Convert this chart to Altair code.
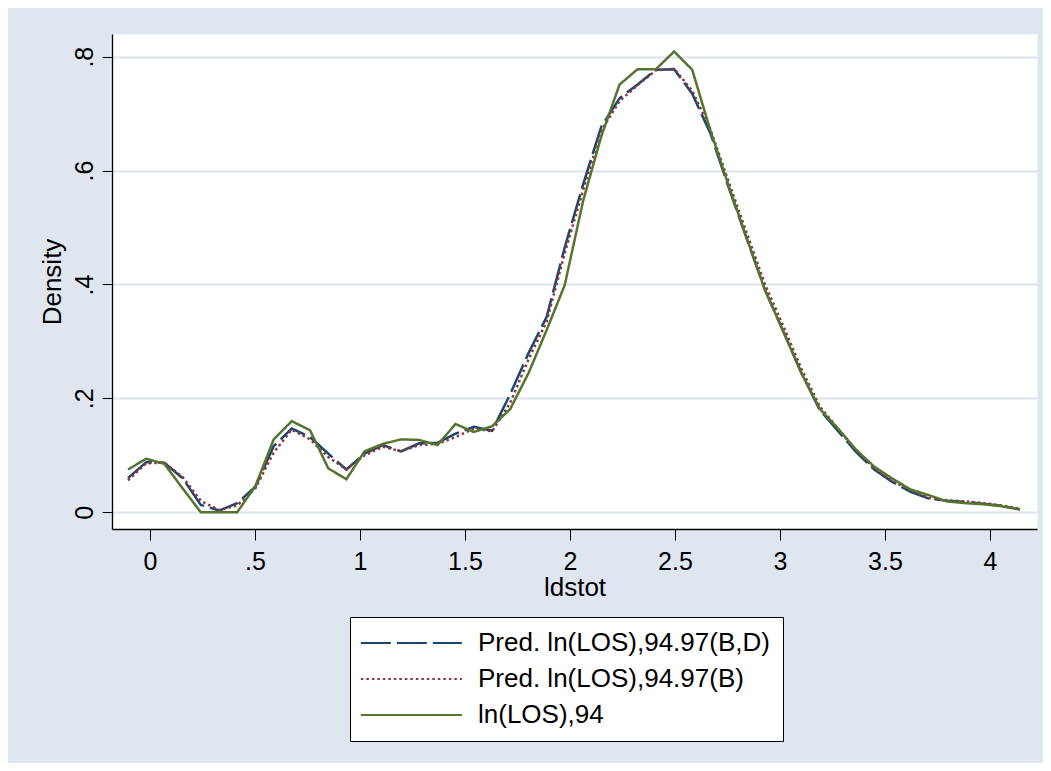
import altair as alt
import pandas as pd

# kdensity evaluation points (ldstot)
ldstot = [-0.105, -0.018, 0.068, 0.155, 0.242, 0.329, 0.415, 0.502, 0.589, 0.675,
          0.762, 0.849, 0.935, 1.022, 1.109, 1.195, 1.282, 1.369, 1.455, 1.542,
          1.629, 1.715, 1.802, 1.889, 1.975, 2.062, 2.149, 2.236, 2.322, 2.409,
          2.496, 2.582, 2.669, 2.756, 2.842, 2.929, 3.016, 3.102, 3.189, 3.276,
          3.362, 3.449, 3.536, 3.622, 3.709, 3.796, 3.882, 3.969, 4.056, 4.143]

# Pred. ln(LOS),94.97(B,D)
pred_bd = [0.060, 0.088, 0.087, 0.060, 0.013, 0.003, 0.016, 0.045, 0.116, 0.147,
           0.132, 0.103, 0.075, 0.103, 0.118, 0.107, 0.121, 0.122, 0.138, 0.150,
           0.143, 0.207, 0.279, 0.343, 0.465, 0.575, 0.677, 0.727, 0.751, 0.777,
           0.778, 0.735, 0.665, 0.570, 0.480, 0.390, 0.318, 0.245, 0.180, 0.143,
           0.106, 0.075, 0.053, 0.036, 0.024, 0.020, 0.018, 0.015, 0.011, 0.005]

# Pred. ln(LOS),94.97(B)
pred_b = [0.056, 0.086, 0.087, 0.062, 0.020, 0.004, 0.012, 0.042, 0.105, 0.145,
          0.128, 0.097, 0.075, 0.100, 0.115, 0.107, 0.118, 0.120, 0.132, 0.147,
          0.142, 0.192, 0.268, 0.335, 0.455, 0.565, 0.670, 0.722, 0.750, 0.776,
          0.779, 0.740, 0.672, 0.580, 0.490, 0.400, 0.327, 0.252, 0.186, 0.147,
          0.109, 0.077, 0.055, 0.038, 0.025, 0.021, 0.019, 0.016, 0.012, 0.006]

# ln(LOS),94
actual = [0.075, 0.094, 0.085, 0.042, 0.000, 0.000, 0.000, 0.046, 0.128, 0.160,
          0.144, 0.077, 0.058, 0.107, 0.120, 0.128, 0.127, 0.118, 0.155, 0.141,
          0.151, 0.181, 0.244, 0.320, 0.399, 0.546, 0.660, 0.751, 0.778, 0.778,
          0.809, 0.777, 0.670, 0.573, 0.481, 0.390, 0.317, 0.244, 0.182, 0.147,
          0.110, 0.080, 0.059, 0.040, 0.030, 0.019, 0.016, 0.014, 0.0105, 0.005]

series_names = ["Pred. ln(LOS),94.97(B,D)", "Pred. ln(LOS),94.97(B)", "ln(LOS),94"]
series_colors = ["#1A476F", "#90353B", "#55752F"]
series_dashes = [[30, 6], [2.5, 3], [1, 0]]

x_ticks = [0, 0.5, 1, 1.5, 2, 2.5, 3, 3.5, 4]
y_ticks = [0, 0.2, 0.4, 0.6, 0.8]

rows = []
for name, vals in zip(series_names, [pred_bd, pred_b, actual]):
    for xv, yv in zip(ldstot, vals):
        rows.append({"ldstot": xv, "density": yv, "series": name})
df = pd.DataFrame(rows)

FONT = "Liberation Sans"
label_expr = "replace(format(datum.value, '~g'), '0.', '.')"

x_enc = alt.X(
    "ldstot:Q",
    scale=alt.Scale(domain=[-0.181, 4.224], nice=False, zero=False),
    axis=alt.Axis(
        values=x_ticks, labelExpr=label_expr, title="ldstot", grid=False,
        tickSize=11, tickColor="#000000", tickWidth=1,
        domainColor="#000000", domainWidth=1.3,
        labelFont=FONT, labelFontSize=25, labelColor="#000000",
        labelBaseline="alphabetic", labelPadding=29,
        titleFont=FONT, titleFontSize=26, titleFontWeight="normal", titleColor="#000000",
        titleBaseline="alphabetic", titleX=462.5, titleY=66, titleAlign="center",
    ),
)
y_enc = alt.Y(
    "density:Q",
    scale=alt.Scale(domain=[-0.0294, 0.8398], nice=False, zero=False),
    axis=alt.Axis(
        values=y_ticks, labelExpr=label_expr, title="Density",
        grid=True, gridColor="#DCE3EE", gridWidth=1.8,
        tickSize=10, tickColor="#000000", tickWidth=1,
        domainColor="#000000", domainWidth=1.3,
        labelFont=FONT, labelFontSize=25, labelColor="#000000",
        labelAngle=270, labelAlign="center", labelBaseline="alphabetic", labelPadding=10,
        titleFont=FONT, titleFontSize=26, titleFontWeight="normal", titleColor="#000000",
        titleAngle=270, titleBaseline="alphabetic", titleAlign="center",
        titleX=-52, titleY=247.5,
    ),
)
color_enc = alt.Color(
    "series:N",
    scale=alt.Scale(domain=series_names, range=series_colors),
    legend=alt.Legend(title=None),
)
dash_enc = alt.StrokeDash(
    "series:N",
    scale=alt.Scale(domain=series_names, range=series_dashes),
    legend=alt.Legend(title=None),
)

layers = []
for name in series_names:
    layers.append(
        alt.Chart(df)
        .transform_filter(alt.datum.series == name)
        .mark_line(strokeWidth=2.5)
        .encode(x=x_enc, y=y_enc, color=color_enc, strokeDash=dash_enc,
                order=alt.Order("ldstot:Q"))
    )

chart = (
    alt.layer(*layers)
    .properties(
        width=925,
        height=495,
        background="#E0E6F0",
        padding={"left": 104, "top": 26, "right": 6, "bottom": 234},
        autosize=alt.AutoSizeParams(type="none"),
    )
    .configure_view(fill="#FFFFFF", stroke="transparent")
    .configure_legend(
        orient="none", legendX=238, legendY=583,
        symbolType="M-1.5,0H8.5", symbolSize=408, symbolStrokeWidth=2,
        labelFont=FONT, labelFontSize=26, labelColor="#000000", labelLimit=500,
        labelOffset=89, rowPadding=10, padding=13,
        strokeColor="#000000", fillColor="#FFFFFF",
    )
)

chart.save("out.html", embed_options={"renderer": "svg", "actions": False})
